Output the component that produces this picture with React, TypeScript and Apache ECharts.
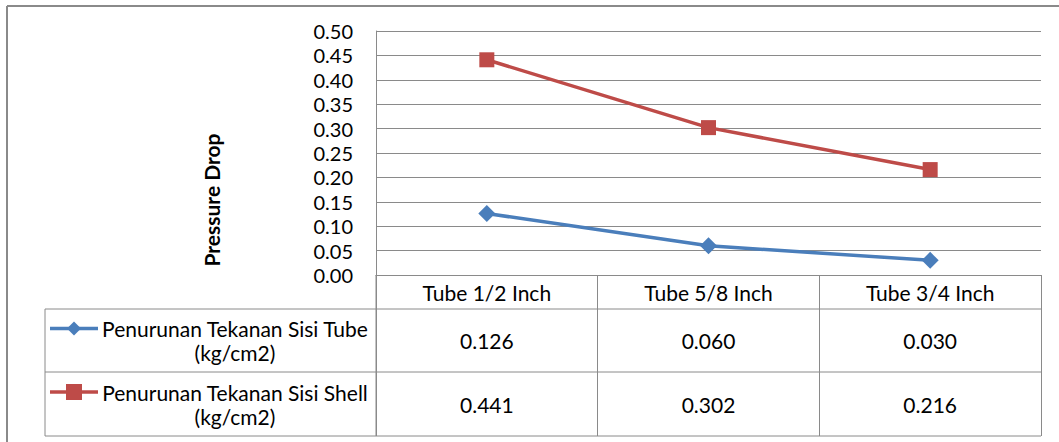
import React, { useEffect, useRef } from "react";
import * as echarts from "echarts";

// Pressure drop per tube size
const categories = ["Tube 1/2 Inch", "Tube 5/8 Inch", "Tube 3/4 Inch"];
const tubeSide = [0.126, 0.06, 0.03];
const shellSide = [0.441, 0.302, 0.216];
const seriesNames = [
  "Penurunan Tekanan Sisi Tube",
  "Penurunan Tekanan Sisi Shell",
];
const unitLabel = "(kg/cm2)";
const yTicks = { min: 0, max: 0.5, interval: 0.05 };
const axisTitle = "Pressure Drop";

const BLUE = "#4A7EBB";
const RED = "#BE4B48";
const GRID = "#8A8A8A";
const FONT = "Lato";
const TABLE_FONT_SIZE = 21;

export default function App() {
  const ref = useRef<HTMLDivElement>(null);

  useEffect(() => {
    document.body.style.margin = "0";
    const chart = echarts.init(ref.current!, null, { renderer: "svg" });

    const gridTop = 31;
    const gridBottomY = 275;
    const gridLeft = 376;
    const gridRight = 1041;
    const row1 = 309;
    const row2 = 372;
    const tableBottom = 436;
    const tableLeft = 45;

    chart.setOption({
      animation: false,
      textStyle: { fontFamily: FONT },
      grid: {
        left: gridLeft,
        right: 1059 - gridRight,
        top: gridTop,
        bottom: 442 - gridBottomY,
        containLabel: false,
      },
      xAxis: {
        type: "category",
        data: categories,
        boundaryGap: true,
        axisLine: { show: true, lineStyle: { color: GRID, width: 1 } },
        axisTick: {
          show: true,
          length: tableBottom - gridBottomY,
          lineStyle: { color: GRID, width: 1 },
        },
        axisLabel: {
          color: "#000",
          fontSize: TABLE_FONT_SIZE,
          fontFamily: FONT,
          margin: 17,
          verticalAlign: "middle",
        },
        splitLine: { show: false },
      },
      yAxis: {
        type: "value",
        min: yTicks.min,
        max: yTicks.max,
        interval: yTicks.interval,
        axisLine: { show: true, lineStyle: { color: GRID, width: 1 } },
        axisTick: { show: false },
        axisLabel: {
          color: "#000",
          fontSize: 20,
          fontFamily: FONT,
          margin: 23,
          formatter: (v: number) => v.toFixed(2),
        },
        splitLine: { show: true, lineStyle: { color: GRID, width: 1 } },
      },
      series: [
        {
          name: seriesNames[0],
          type: "line",
          data: tubeSide,
          symbol: "diamond",
          symbolSize: 17,
          lineStyle: { color: BLUE, width: 3.5 },
          itemStyle: { color: BLUE },
        },
        {
          name: seriesNames[1],
          type: "line",
          data: shellSide,
          symbol: "rect",
          symbolSize: 15,
          lineStyle: { color: RED, width: 3.5 },
          itemStyle: { color: RED },
        },
      ],
    });

    const cx = categories.map(
      (_, i) => chart.convertToPixel({ xAxisIndex: 0 }, i) as number
    );

    const rows = [
      { top: row1, bottom: row2, values: tubeSide, color: BLUE, symbol: "diamond" },
      { top: row2, bottom: tableBottom, values: shellSide, color: RED, symbol: "rect" },
    ];

    const line = (x1: number, y1: number, x2: number, y2: number, color = GRID, w = 1) => ({
      type: "line",
      shape: { x1, y1, x2, y2 },
      style: { stroke: color, lineWidth: w },
      silent: true,
    });
    const text = (x: number, y: number, t: string) => ({
      type: "text",
      x,
      y,
      style: {
        text: t,
        fill: "#000",
        font: `${TABLE_FONT_SIZE}px ${FONT}`,
        align: "center",
        verticalAlign: "middle",
      },
      silent: true,
    });

    const elements: any[] = [
      // outer frame
      line(7, 6, 1059, 6, "#8A8A8A", 2),
      line(7, 6, 7, 442, "#8A8A8A", 2),
      // table rules
      line(tableLeft, row1, gridRight, row1),
      line(tableLeft, row2, gridRight, row2),
      line(tableLeft, tableBottom, gridRight, tableBottom),
      line(tableLeft, row1, tableLeft, tableBottom),
      line(gridLeft, gridBottomY, gridLeft, tableBottom),
      // axis title
      {
        type: "text",
        x: 211,
        y: 200,
        rotation: Math.PI / 2,
        style: {
          text: axisTitle,
          fill: "#000",
          font: `bold 21px ${FONT}`,
          align: "center",
          verticalAlign: "middle",
        },
        silent: true,
      },
    ];

    rows.forEach((r, k) => {
      const mid = (r.top + r.bottom) / 2;
      const l1 = mid - 12;
      const l2 = mid + 12;
      // legend key
      elements.push(line(50, l1, 98, l1, r.color, 3.5));
      if (r.symbol === "diamond") {
        elements.push({
          type: "polygon",
          shape: { points: [[74, l1 - 7], [81, l1], [74, l1 + 7], [67, l1]] },
          style: { fill: r.color },
          silent: true,
        });
      } else {
        elements.push({
          type: "rect",
          shape: { x: 66, y: l1 - 8, width: 16, height: 16 },
          style: { fill: r.color },
          silent: true,
        });
      }
      elements.push(text(235, l1, seriesNames[k]));
      elements.push(text(235, l2, unitLabel));
      r.values.forEach((v, i) => {
        elements.push(text(cx[i], mid, v.toFixed(3)));
      });
    });

    chart.setOption({ graphic: elements });

    return () => chart.dispose();
  }, []);

  return (
    <div
      ref={ref}
      style={{ position: "absolute", left: 0, top: 0, width: 1059, height: 442, background: "#fff" }}
    />
  );
}
